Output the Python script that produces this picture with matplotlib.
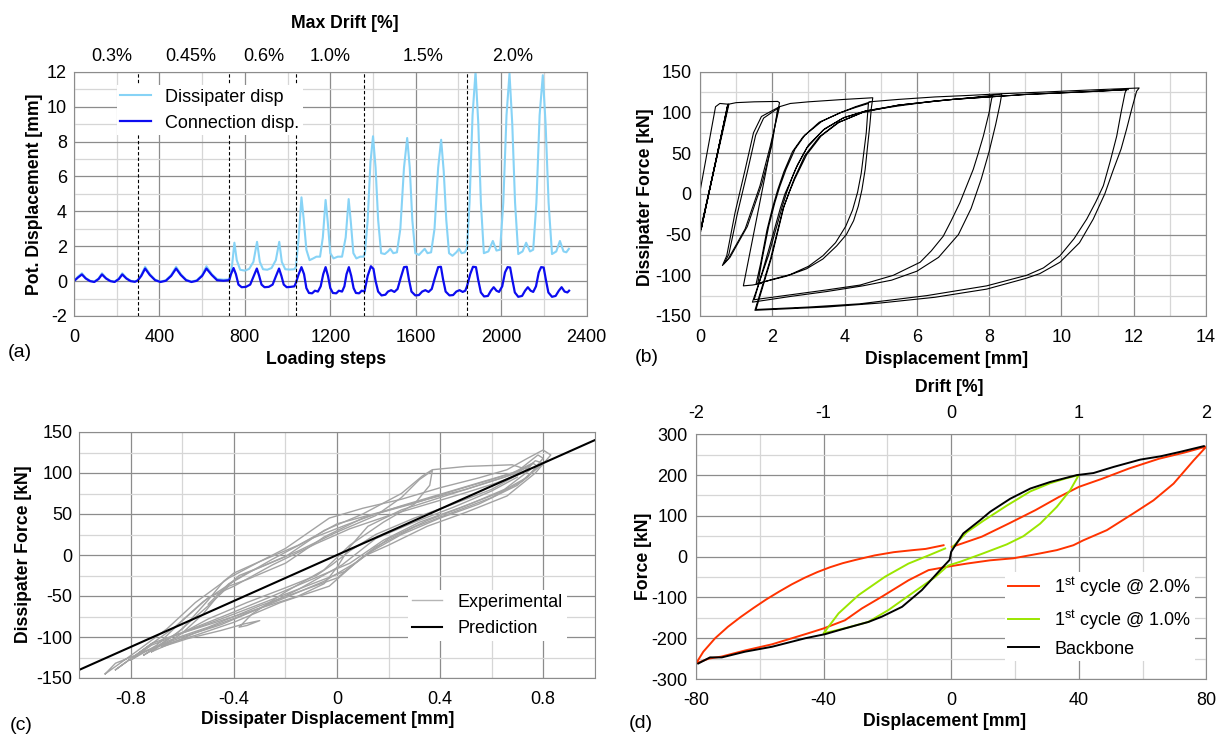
import matplotlib
matplotlib.use('Agg')
import matplotlib.pyplot as plt
from matplotlib import font_manager
from matplotlib.ticker import MultipleLocator, FuncFormatter

# ---------------- (a) potentiometer displacement vs loading steps ----------------
drift_pos = [176, 547, 890, 1201, 1635, 2054]
drift_labels = ['0.3%', '0.45%', '0.6%', '1.0%', '1.5%', '2.0%']
drift_bounds = [298, 727, 1039, 1360, 1839]

diss_step = [0, 18, 37, 55, 75, 95, 115, 131, 150, 170, 190, 210, 226, 245, 265, 285, 298,
             315, 333, 355, 380, 405, 430, 455, 478, 500, 525, 550, 575, 600, 620, 645, 670, 700, 727,
             740, 751, 762, 778, 800, 820, 840, 857, 870, 885, 905, 925, 945, 961, 973, 989, 1010, 1031, 1039,
             1052, 1065, 1075, 1088, 1103, 1120, 1135, 1152, 1165, 1178, 1188, 1200, 1215, 1235, 1255, 1272,
             1286, 1296, 1308, 1322, 1340, 1355, 1362,
             1375, 1388, 1400, 1412, 1424, 1438, 1455, 1470, 1481, 1495, 1512, 1528, 1545, 1560, 1572, 1584,
             1598, 1615, 1630, 1642, 1655, 1672, 1688, 1705, 1719, 1731, 1743, 1756, 1772, 1790, 1803, 1815,
             1830, 1840,
             1852, 1866, 1880, 1893, 1905, 1919, 1940, 1961, 1978, 1995, 2010, 2025, 2039, 2052, 2065, 2080,
             2100, 2117, 2135, 2150, 2165, 2180, 2195, 2208, 2222, 2238, 2258, 2275, 2292, 2305, 2317]
diss_disp = [0.0, 0.25, 0.45, 0.18, 0.02, -0.03, 0.15, 0.45, 0.18, 0.02, -0.03, 0.15, 0.45, 0.18, 0.02, -0.02, 0.05,
             0.35, 0.82, 0.4, 0.08, -0.03, 0.05, 0.35, 0.82, 0.4, 0.08, -0.03, 0.05, 0.35, 0.85, 0.4, 0.12, 0.08, 0.1,
             0.9, 2.2, 1.2, 0.65, 0.6, 0.7, 1.1, 2.25, 1.1, 0.68, 0.65, 0.75, 1.2, 2.25, 1.1, 0.68, 0.66, 0.68, 0.8,
             2.5, 4.8, 3.6, 1.8, 1.2, 1.3, 1.4, 1.4, 2.5, 4.65, 3.4, 1.6, 1.3, 1.4, 1.4, 2.5,
             4.7, 3.4, 1.6, 1.3, 1.4, 1.4, 1.6,
             3.5, 6.8, 8.3, 6.5, 3.5, 1.6, 1.55, 1.7, 1.85, 1.6, 1.65, 3.0, 6.5, 8.2, 6.5, 3.5,
             1.6, 1.5, 1.7, 1.85, 1.6, 1.65, 3.0, 6.5, 8.1, 6.3, 3.5, 1.6, 1.45, 1.65, 1.85, 1.6,
             1.65, 1.9,
             4.5, 9.5, 12.0, 9.0, 4.5, 1.6, 1.7, 2.3, 1.75, 1.8, 4.5, 9.5, 11.9, 9.0, 4.5, 1.55,
             1.7, 2.2, 1.7, 1.8, 4.5, 9.5, 11.8, 9.0, 4.5, 1.55, 1.7, 2.3, 1.7, 1.65, 1.85]

conn_step = [0, 18, 37, 55, 75, 95, 115, 131, 150, 170, 190, 210, 226, 245, 265, 285, 298,
             315, 333, 355, 380, 405, 430, 455, 478, 500, 525, 550, 575, 600, 620, 645, 670, 700, 727,
             735, 747, 758, 770, 785, 805, 825, 842, 856, 867, 878, 892, 912, 930, 946, 960, 971, 982, 996,
             1015, 1032, 1039,
             1052, 1065, 1077, 1088, 1100, 1115, 1128, 1142, 1155, 1167, 1178, 1189, 1200, 1212, 1228, 1240,
             1255, 1266, 1276, 1287, 1298, 1309, 1320, 1335, 1347, 1360,
             1375, 1390, 1402, 1412, 1424, 1440, 1458, 1470, 1485, 1500, 1515, 1530, 1545, 1558, 1568, 1580,
             1598, 1615, 1630, 1645, 1660, 1675, 1690, 1705, 1718, 1728, 1740, 1758, 1775, 1790, 1805, 1820,
             1832, 1840,
             1855, 1868, 1882, 1892, 1905, 1920, 1938, 1952, 1965, 1978, 1990, 2005, 2018, 2030, 2042, 2052,
             2064, 2080, 2098, 2112, 2125, 2138, 2150, 2163, 2176, 2187, 2199, 2209, 2221, 2238, 2255, 2270,
             2283, 2297, 2310, 2318]
conn_disp = [0.0, 0.2, 0.38, 0.15, 0.0, -0.05, 0.12, 0.38, 0.15, 0.0, -0.05, 0.12, 0.38, 0.15, 0.0, -0.04, 0.03,
             0.3, 0.72, 0.35, 0.05, -0.05, 0.02, 0.3, 0.72, 0.35, 0.05, -0.05, 0.02, 0.3, 0.72, 0.35, 0.05, 0.02, 0.05,
             0.4, 0.75, 0.4, -0.2, -0.35, -0.33, -0.2, 0.3, 0.72, 0.3, -0.2, -0.35, -0.33, -0.2, 0.3, 0.72, 0.3, -0.2, -0.35,
             -0.33, -0.3, -0.1,
             0.4, 0.8, 0.4, -0.4, -0.68, -0.7, -0.55, -0.6, -0.3, 0.4, 0.8, 0.3, -0.4, -0.68, -0.7, -0.55,
             -0.6, -0.3, 0.4, 0.8, 0.3, -0.4, -0.68, -0.7, -0.55, -0.6,
             0.3, 0.85, 0.7, 0.0, -0.6, -0.82, -0.78, -0.6, -0.52, -0.62, -0.45, 0.2, 0.8, 0.82, 0.1, -0.6,
             -0.82, -0.8, -0.6, -0.52, -0.62, -0.45, 0.2, 0.8, 0.82, 0.1, -0.6, -0.82, -0.8, -0.6, -0.52, -0.62,
             -0.55, -0.3,
             0.4, 0.82, 0.8, 0.1, -0.65, -0.88, -0.85, -0.55, -0.35, -0.55, -0.62, -0.3, 0.5, 0.8, 0.78, 0.1,
             -0.65, -0.9, -0.85, -0.55, -0.35, -0.55, -0.62, -0.3, 0.5, 0.8, 0.78, 0.1, -0.65, -0.9, -0.85, -0.55,
             -0.35, -0.6, -0.65, -0.55]

# ---------------- (b) dissipater hysteresis ----------------
b03_d = [0.0, 0.43, 0.55, 0.8, 0.0, 0.78, 0.04, 0.76, 0.02]
b03_f = [3, 107, 111, 110, -47, 110, -42, 108, -46]
b06top_d = [0.78, 1.0, 1.5, 2.15, 2.2, 1.2, 1.45, 1.7]
b06top_f = [110, 112, 113, 113.5, 112, -113, -112, -110]
bS1_d = [2.2, 1.7, 1.48, 1.25, 0.97, 0.74, 0.62, 0.78, 1.25, 1.66, 1.94, 2.2]
bS1_f = [107, 95, 75, 30, -23, -76, -88, -80, -43, 10, 58, 107]
bS2_d = [2.15, 1.76, 1.54, 1.31, 1.03, 0.8, 0.66, 0.83, 1.31, 1.71, 1.99, 2.15]
bS2_f = [105, 93, 72, 27, -25, -74, -86, -78, -40, 12, 60, 105]
b10_d = [2.2, 2.5, 3.0, 4.0, 4.78,
         4.74, 4.7, 4.64, 4.57, 4.48, 4.38, 4.25, 4.05, 3.78, 3.4, 2.95, 2.4, 1.95, 1.6,
         1.72, 1.9, 2.07, 2.2, 2.38, 2.63, 2.9, 3.37, 3.9, 4.3, 4.66,
         4.64, 4.6, 4.53, 4.46, 4.36, 4.22, 4.03, 3.75, 3.4, 3.0, 2.5, 2.0, 1.55,
         1.68, 1.85, 2.0, 2.15, 2.32, 2.56, 2.85, 3.3, 3.85, 4.3, 4.72]
b10_f = [107, 111, 113, 116, 118,
         105, 85, 60, 30, 5, -15, -33, -50, -64, -80, -92, -101, -106, -110,
         -80, -40, -11, 8, 30, 55, 72, 89, 100, 106, 111,
         100, 75, 50, 25, 2, -20, -40, -60, -76, -89, -99, -105, -111,
         -85, -45, -18, 5, 27, 52, 70, 88, 99, 107, 113]
b15_d = [4.68, 5.5, 6.5, 7.5, 8.35,
         8.3, 8.18, 8.0, 7.78, 7.5, 7.15, 6.6, 6.0, 5.3, 4.5, 3.5, 2.5, 1.45,
         1.9, 2.28, 2.4, 2.55, 2.7, 3.0, 3.45, 4.0, 4.6, 5.5, 6.5, 7.5, 8.1,
         8.07, 8.0, 7.84, 7.7, 7.56, 7.19, 6.95, 6.73, 6.4, 6.09, 5.35, 4.43, 3.5, 2.5, 1.5,
         1.88, 2.22, 2.35, 2.5, 2.65, 2.95, 3.4, 3.95, 4.6, 5.5, 6.5, 7.5, 8.3]
b15_f = [113, 116, 119, 121, 123,
         110, 85, 52, 18, -18, -50, -78, -95, -106, -113, -120, -126, -133,
         -75, -15, 2, 20, 36, 60, 80, 94, 102, 109, 114, 118, 120,
         117, 100, 71, 50, 30, -11, -33, -52, -70, -84, -100, -112, -118, -124, -130,
         -72, -18, 0, 15, 31, 56, 78, 93, 102, 108, 114, 118, 122]
b20_d = [8.35, 9.5, 10.5, 12.15,
         12.08, 11.95, 11.8, 11.65, 11.44, 11.2, 10.88, 10.5, 9.96, 9.4, 9.0, 7.93, 6.5, 5.0, 3.5, 2.5, 1.52,
         1.95, 2.3, 2.45, 2.6, 2.9, 3.3, 3.8, 4.5, 5.5, 7.0, 9.0, 11.0, 11.8,
         11.76, 11.65, 11.53, 11.35, 11.16, 10.95, 10.7, 10.35, 9.96, 9.5, 9.04, 7.93, 6.27, 4.43, 3.0, 1.55,
         1.98, 2.32, 2.47, 2.62, 2.95, 3.35, 3.85, 4.55, 5.5, 7.0, 9.0, 11.0, 11.85]
b20_f = [123, 125, 127, 130,
         126, 105, 79, 55, 30, 0, -31, -60, -84, -98, -104, -117, -127, -134, -139, -141, -143,
         -80, -18, 0, 18, 47, 70, 87, 100, 109, 116, 122, 126, 128,
         124, 100, 71, 40, 10, -10, -31, -55, -76, -91, -100, -113, -125, -135, -139, -142,
         -78, -16, 2, 18, 48, 71, 88, 101, 109, 116, 122, 126, 128]

# ---------------- (c) dissipater: experiment vs prediction ----------------
c1_d = [-0.9, -0.78, -0.66, -0.55, -0.42, -0.3, -0.2, -0.03, 0.1, 0.25, 0.4, 0.55, 0.66, 0.74, 0.8,
        0.83, 0.77, 0.66, 0.5, 0.35, 0.2, 0.1, -0.03, -0.22, -0.4, -0.55, -0.7, -0.86, -0.9]
c1_f = [-145, -118, -90, -58, -28, -8, 8, 45, 57, 68, 82, 94, 104, 118, 128,
        122, 100, 72, 52, 35, 12, -2, -38, -58, -82, -98, -112, -132, -145]
c2_d = [-0.86, -0.75, -0.63, -0.52, -0.4, -0.25, -0.1, 0.03, 0.15, 0.3, 0.45, 0.6, 0.7, 0.78,
        0.8, 0.74, 0.63, 0.48, 0.32, 0.18, 0.05, -0.1, -0.25, -0.42, -0.58, -0.72, -0.86]
c2_f = [-140, -115, -88, -57, -32, -5, 20, 36, 50, 63, 78, 92, 102, 122,
        118, 95, 76, 58, 40, 18, -10, -30, -50, -72, -92, -108, -140]
c3_d = [-0.8, -0.7, -0.6, -0.5, -0.4, -0.25, -0.08, 0.05, 0.2, 0.35, 0.5, 0.62, 0.72, 0.77,
        0.8, 0.72, 0.6, 0.45, 0.3, 0.15, 0.03, -0.12, -0.3, -0.45, -0.6, -0.72, -0.8]
c3_f = [-128, -110, -80, -52, -38, -12, 14, 32, 48, 62, 76, 88, 100, 115,
        112, 90, 70, 52, 34, 10, -20, -38, -60, -78, -95, -110, -128]
c4_d = [-0.68, -0.6, -0.52, -0.45, -0.38, -0.3, -0.15, 0.0, 0.15, 0.25, 0.32, 0.37,
        0.36, 0.3, 0.18, 0.05, -0.05, -0.2, -0.33, -0.38, -0.35, -0.3, -0.36, -0.45, -0.58, -0.68]
c4_f = [-112, -95, -72, -45, -25, -15, 5, 28, 48, 70, 92, 103,
        85, 62, 40, 12, -18, -45, -72, -88, -86, -80, -84, -92, -102, -112]
c5_d = [-0.6, -0.45, -0.3, -0.15, -0.05, 0.0, 0.05, 0.12, 0.25, 0.4, 0.55, 0.7, 0.76,
        0.74, 0.6, 0.45, 0.3, 0.15, 0.05, -0.02, -0.08, -0.2, -0.35, -0.5, -0.6]
c5_f = [-95, -80, -65, -50, -35, -15, 10, 35, 55, 70, 85, 100, 112,
        105, 80, 62, 45, 25, 5, -12, -25, -40, -58, -78, -95]
c6_d = [-0.5, -0.42, -0.35, -0.2, -0.05, 0.1, 0.25, 0.33, 0.37, 0.5, 0.68, 0.72]
c6_f = [-60, -35, -22, -2, 30, 50, 75, 96, 104, 108, 110, 106]
c7_d = [0.7, 0.6, 0.45, 0.3, 0.15, 0.02, -0.15, -0.3, -0.45, -0.6, -0.75]
c7_f = [95, 78, 58, 40, 20, -12, -42, -65, -85, -100, -118]
c8_d = [-0.75, -0.62, -0.5, -0.42, -0.35, -0.2, -0.05, 0.1, 0.25, 0.4, 0.55, 0.68, 0.76,
        0.78, 0.7, 0.55, 0.4, 0.25, 0.12, 0.0, -0.15, -0.3, -0.5, -0.65, -0.75]
c8_f = [-122, -95, -62, -38, -30, -10, 22, 45, 60, 74, 88, 100, 112,
        108, 85, 62, 45, 25, 2, -28, -45, -62, -88, -104, -122]
c9_d = [-0.72, -0.6, -0.5, -0.44, -0.4, -0.3, -0.15, 0.0, 0.2, 0.35, 0.5, 0.65, 0.73,
        0.75, 0.65, 0.5, 0.35, 0.2, 0.08, -0.05, -0.2, -0.38, -0.55, -0.72]
c9_f = [-118, -90, -55, -32, -22, -8, 12, 38, 55, 68, 80, 95, 106,
        104, 80, 60, 42, 20, -8, -32, -52, -75, -95, -118]
pred_d = [-1.0, 1.0]
pred_f = [-140, 140]

# ---------------- (d) wall force vs displacement ----------------
mm_per_pct = 40
bb_d = [-79.3, -75.6, -71.9, -64.6, -56.2, -45.7, -39.5, -33.3, -25.9, -21.7, -15.4, -9.2, -3.5, -0.5, 0.0,
        1.3, 3.8, 9.0, 12.2, 18.5, 24.8, 31.0, 39.4, 44.6, 50.9, 59.3, 65.6, 71.8, 79.2]
bb_f = [-262, -247, -247, -233, -221, -200, -190, -176, -160, -147, -123, -82, -33, -8, 12,
        28, 57, 89, 110, 142, 167, 183, 200, 205, 220, 238, 246, 257, 271]
red_d = [0.2, 3.3, 9.6, 18.0, 26.4, 33.7, 40.0, 47.3, 55.7, 65.1, 73.0, 80.0,
         76.0, 69.7, 63.4, 57.1, 48.8, 41.4, 38.3, 33.1, 27.9, 19.5, 12.2, 4.9, -1.4,
         -7.1, -13.4, -21.7, -28.0, -33.3, -40.0, -45.7, -56.2, -64.6, -72.0, -76.0, -80.0,
         -77.7, -74.0, -70.0, -66.0, -62.0, -58.0, -54.0, -50.0, -46.0, -42.0, -38.0, -34.0, -30.0,
         -24.0, -18.0, -12.0, -8.0, -2.4]
red_f = [24, 32, 49, 81, 114, 146, 171, 191, 216, 240, 255, 270,
         236, 179, 138, 106, 65, 40, 28, 16, 8, -4, -9, -17, -25,
         -33, -58, -98, -127, -156, -176, -190, -215, -230, -245, -250, -262,
         -233, -200, -172, -148, -126, -105, -86, -68, -52, -38, -26, -16, -8,
         3, 11, 16, 19, 28]
green_d = [0.5, 4.9, 10.1, 17.4, 24.8, 31.0, 36.0, 40.0,
           39.4, 37.3, 33.1, 27.9, 22.6, 17.4, 10.0, 3.0, -1.0,
           -5.0, -12.3, -19.7, -26.0, -33.0, -40.0,
           -35.3, -29.0, -20.7, -13.4, -7.1, -1.9]
green_f = [24, 60, 88, 125, 160, 180, 192, 200,
           192, 163, 122, 81, 50, 30, 8, -12, -22,
           -50, -90, -131, -160, -175, -188,
           -139, -94, -49, -17, 3, 20]

# ---------------- fonts ----------------
names = {f.name for f in font_manager.fontManager.ttflist}
if 'Liberation Sans Narrow' in names:
    NARROW, TICK_FS, LEG_FS = 'Liberation Sans Narrow', 14, 14.5
else:
    NARROW, TICK_FS, LEG_FS = 'Liberation Sans', 13, 13
BOLD = 'Liberation Sans'
LAB_FS = 12.7

plt.rcParams['font.family'] = [NARROW, 'DejaVu Sans']
plt.rcParams['axes.unicode_minus'] = False
plt.rcParams['mathtext.fontset'] = 'custom'
plt.rcParams['mathtext.rm'] = NARROW

MAJ = '#8c8c8c'
MIN = '#d6d6d6'
W, H = 1220, 735

fig = plt.figure(figsize=(W / 100, H / 100), dpi=100)


def place(left, top, right, bottom):
    return fig.add_axes([left / W, 1 - bottom / H, (right - left) / W, (bottom - top) / H])


def style(ax, xmaj, xmin, ymaj, ymin, xpad=9.5, ypad=5):
    ax.xaxis.set_major_locator(MultipleLocator(xmaj))
    ax.xaxis.set_minor_locator(MultipleLocator(xmin))
    ax.yaxis.set_major_locator(MultipleLocator(ymaj))
    ax.yaxis.set_minor_locator(MultipleLocator(ymin))
    ax.grid(which='major', color=MAJ, lw=0.9)
    ax.grid(which='minor', color=MIN, lw=0.9)
    ax.set_axisbelow(True)
    ax.tick_params(which='both', length=0, labelsize=TICK_FS)
    ax.tick_params(axis='x', pad=xpad)
    ax.tick_params(axis='y', pad=ypad)
    fmt = FuncFormatter(lambda v, p: f'{round(v, 3):g}')
    ax.xaxis.set_major_formatter(fmt)
    ax.yaxis.set_major_formatter(fmt)
    for s in ax.spines.values():
        s.set_color(MAJ)


def label(x, y, s, rot=0, bold=True, size=LAB_FS):
    fig.text(x / W, 1 - y / H, s, ha='center', va='center', rotation=rot,
             fontsize=size, fontweight='bold' if bold else 'normal',
             family=BOLD if bold else NARROW)


# ---- (a) ----
ax = place(74, 71.7, 586.6, 316)
ax.plot(diss_step, diss_disp, color='#87d3f6', lw=1.5, label='Dissipater disp')
ax.plot(conn_step, conn_disp, color='#0c0cf0', lw=1.6, label='Connection disp.')
for b in drift_bounds:
    ax.axvline(b, color='black', lw=0.8, ls=(0, (3, 2)))
ax.set_xlim(0, 2400)
ax.set_ylim(-2, 12)
style(ax, 400, 200, 2, 1)
top = ax.secondary_xaxis('top')
top.set_xticks(drift_pos, labels=drift_labels)
top.tick_params(length=0, pad=4.5, labelsize=TICK_FS)
for s in top.spines.values():
    s.set_visible(False)
ax.legend(loc='upper left', bbox_to_anchor=(0.083, 0.946), borderaxespad=0, frameon=True,
          fancybox=False, framealpha=1, facecolor='white', edgecolor='none', fontsize=LEG_FS,
          handlelength=1.7, handletextpad=0.8, borderpad=0.2, labelspacing=0.5)
label(345, 23, 'Max Drift [%]')
label(326, 360, 'Loading steps')
label(35, 194, 'Pot. Displacement [mm]', rot=90)
label(19.5, 352, '(a)', bold=False, size=14)

# ---- (b) ----
ax = place(700, 71.7, 1206, 316)
for d, f in [(b03_d, b03_f), (b06top_d, b06top_f), (bS1_d, bS1_f), (bS2_d, bS2_f),
             (b10_d, b10_f), (b15_d, b15_f), (b20_d, b20_f)]:
    ax.plot(d, f, color='black', lw=0.8)
ax.set_xlim(0, 14)
ax.set_ylim(-150, 150)
style(ax, 2, 1, 50, 25, ypad=6)
label(947, 360, 'Displacement [mm]')
label(645, 197, 'Dissipater Force [kN]', rot=90)
label(647, 357, '(b)', bold=False, size=14)

# ---- (c) ----
ax = place(79.4, 432, 594.6, 678)
for i, (d, f) in enumerate([(c1_d, c1_f), (c2_d, c2_f), (c3_d, c3_f), (c4_d, c4_f), (c5_d, c5_f),
                            (c6_d, c6_f), (c7_d, c7_f), (c8_d, c8_f), (c9_d, c9_f)]):
    ax.plot(d, f, color='#a3a3a3', lw=1.0, label='Experimental' if i == 0 else None)
ax.plot(pred_d, pred_f, color='black', lw=1.5, label='Prediction')
ax.set_xlim(-1, 1)
ax.set_ylim(-150, 150)
style(ax, 0.4, 0.2, 50, 25, ypad=5)
leg = ax.legend(loc='upper left', bbox_to_anchor=(0.638, 0.358), borderaxespad=0, frameon=True,
                fancybox=False, framealpha=1, facecolor='white', edgecolor='none', fontsize=LEG_FS,
                handlelength=1.7, handletextpad=0.85, borderpad=0.2, labelspacing=0.55)
leg.get_lines()[0].set_color('#b5b5b5')
label(328, 720, 'Dissipater Displacement [mm]')
label(23.5, 554, 'Dissipater Force [kN]', rot=90)
label(21.5, 725, '(c)', bold=False, size=14)

# ---- (d) ----
ax = place(696, 434.3, 1206.4, 679)
ax.plot(red_d, red_f, color='#ff3300', lw=1.4, label=r'1$^{\rm st}$ cycle @ 2.0%')
ax.plot(green_d, green_f, color='#9be600', lw=1.4, label=r'1$^{\rm st}$ cycle @ 1.0%')
ax.plot(bb_d, bb_f, color='black', lw=1.4, label='Backbone')
ax.set_xlim(-80, 80)
ax.set_ylim(-300, 300)
style(ax, 40, 20, 100, 50, ypad=6)
sec = ax.secondary_xaxis('top', functions=(lambda x: x / mm_per_pct, lambda x: x * mm_per_pct))
sec.set_xticks([-2, -1, 0, 1, 2])
sec.xaxis.set_major_formatter(FuncFormatter(lambda v, p: f'{v:g}'))
sec.tick_params(length=0, pad=9, labelsize=TICK_FS)
for s in sec.spines.values():
    s.set_visible(False)
ax.legend(loc='upper left', bbox_to_anchor=(0.605, 0.4385), borderaxespad=0, frameon=True,
          fancybox=False, framealpha=1, facecolor='white', edgecolor='none', fontsize=LEG_FS,
          handlelength=1.7, handletextpad=0.85, borderpad=0.2, labelspacing=0.5)
label(949, 387, 'Drift [%]')
label(945, 722, 'Displacement [mm]')
label(644, 556, 'Force [kN]', rot=90)
label(641, 723, '(d)', bold=False, size=14)

fig.savefig('out.png', dpi=100)
